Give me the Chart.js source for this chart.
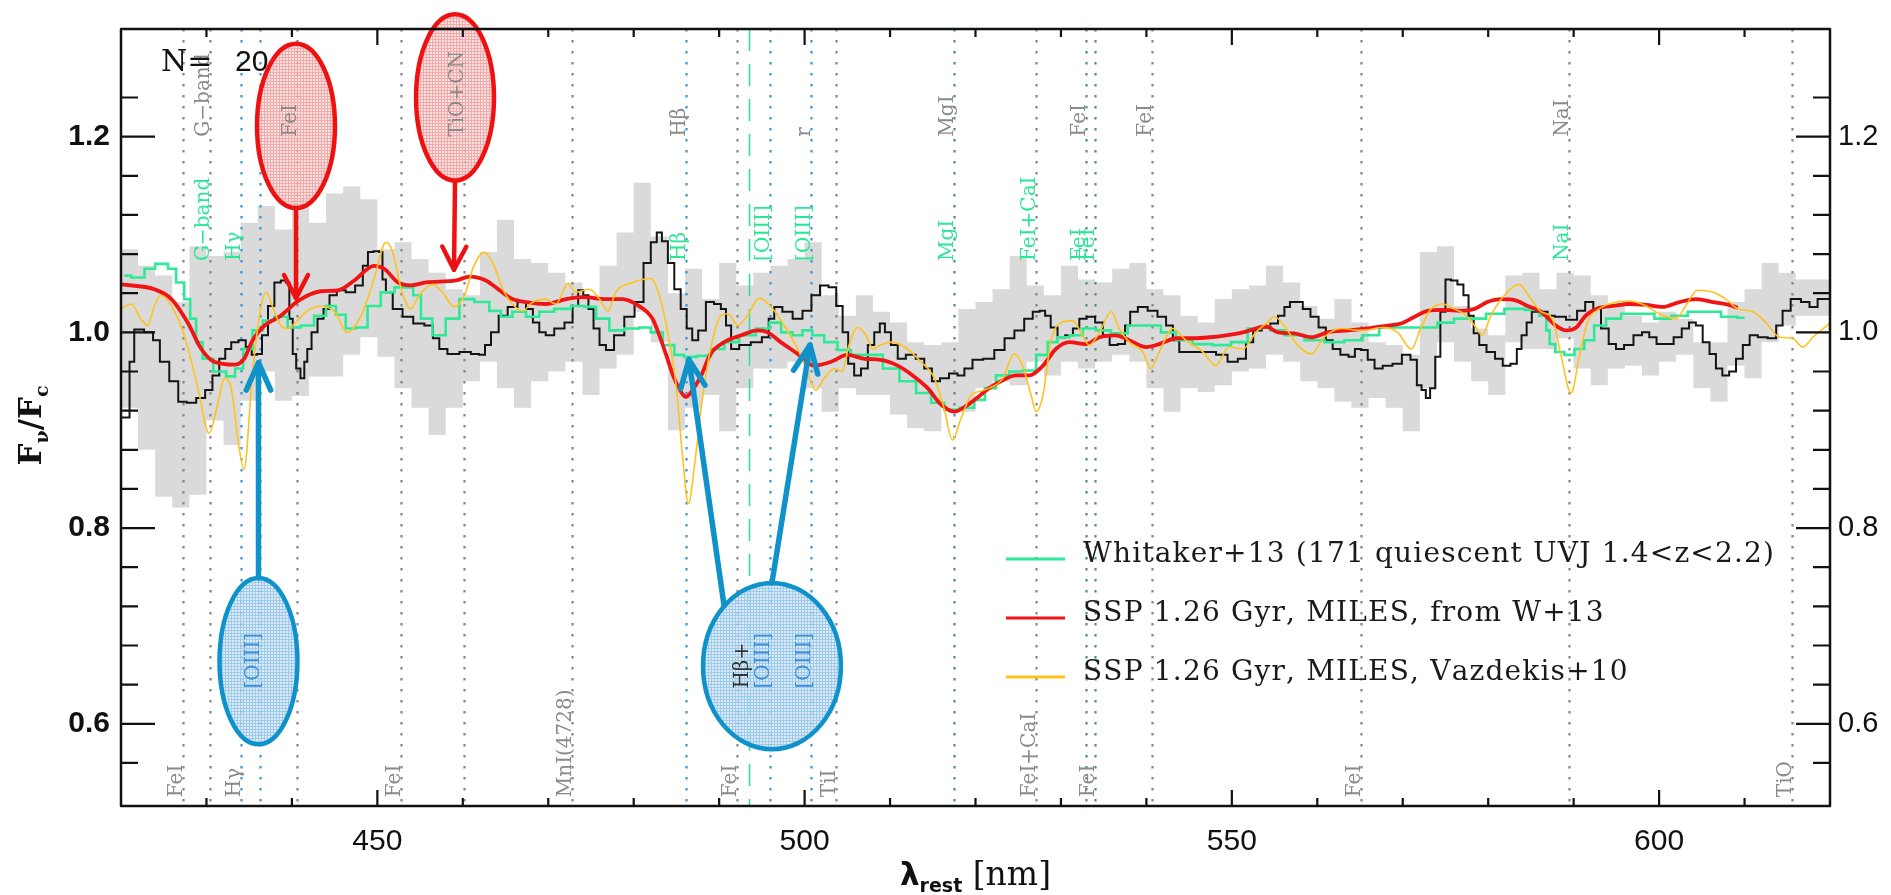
<!DOCTYPE html>
<html>
<head>
<meta charset="utf-8">
<script src="https://cdn.jsdelivr.net/npm/chart.js@4.4.1/dist/chart.umd.min.js"></script>
<style>
  html, body { margin: 0; padding: 0; background: #fff; }
  #wrap { width: 1891px; height: 895px; }
</style>
</head>
<body>
<div id="wrap"><canvas id="spec"></canvas></div>
<script>
// ---- data (rest wavelength in nm, F_nu/F_c) ----
const bandNm = [420,422,424,426,428,430,432,434,436,438,440,442,444,446,448,450,452,454,456,458,460,462,464,466,468,470,472,474,476,478,480,482,484,486,488,490,492,494,496,498,500,502,504,506,508,510,512,514,516,518,520,522,524,526,528,530,532,534,536,538,540,542,544,546,548,550,552,554,556,558,560,562,564,566,568,570,572,574,576,578,580,582,584,586,588,590,592,594,596,598,600,602,604,606,608,610,612,614,616,618,620];
const bandHigh = [1.041,1.085,1.068,1.058,1.031,1.088,1.078,1.082,1.112,1.129,1.105,1.136,1.112,1.142,1.149,1.136,1.085,1.092,1.075,1.061,1.044,1.038,1.082,1.115,1.075,1.071,1.061,1.051,1.038,1.068,1.102,1.153,1.098,1.040,1.065,1.034,1.071,1.048,1.061,1.068,1.075,1.092,1.038,1.017,1.038,1.021,1.010,0.990,0.987,0.990,1.024,1.031,1.044,1.078,1.048,1.038,1.068,1.054,1.051,1.065,1.071,1.044,1.038,1.017,1.010,1.034,1.044,1.048,1.068,1.051,1.027,1.014,1.034,1.010,0.990,0.987,0.977,1.082,1.088,1.027,1.004,0.997,1.058,1.061,1.044,1.061,1.058,1.038,1.027,1.017,1.010,1.021,1.014,0.990,0.990,1.031,1.044,1.071,1.061,1.054,1.054];
const bandLow = [0.900,0.923,0.880,0.832,0.821,0.834,0.910,0.885,0.930,0.960,0.930,0.935,0.955,0.955,0.977,0.995,0.975,0.943,0.923,0.895,0.923,0.950,0.970,0.943,0.923,0.950,0.960,0.970,0.936,0.963,0.977,1.021,0.990,0.900,0.923,0.936,0.899,0.943,0.963,0.963,0.970,0.943,0.919,0.943,0.936,0.936,0.916,0.902,0.899,0.923,0.919,0.943,0.950,0.946,0.970,0.956,0.970,0.963,0.970,0.977,0.970,0.943,0.919,0.943,0.939,0.946,0.960,0.963,0.977,0.970,0.950,0.943,0.929,0.923,0.933,0.923,0.899,0.943,0.990,0.970,0.950,0.936,0.990,0.983,0.983,0.994,0.963,0.946,0.963,0.966,0.956,0.970,0.977,0.943,0.929,0.966,0.953,0.990,1.007,1.017,1.017];

const stackNm = [420.0,420.8,421.2,421.9,423.5,424.0,425.1,426.2,427.2,428.2,429.4,430.3,431.1,431.9,432.5,433.3,434.2,435.0,435.6,436.2,436.8,437.6,438.3,439.1,439.5,439.9,440.3,440.7,441.3,441.6,442.0,442.6,443.4,444.0,444.8,445.7,446.9,447.9,448.7,449.1,450.0,450.4,450.8,451.2,452.4,453.5,454.9,456.1,456.9,457.6,458.8,460.4,461.5,462.3,462.9,463.7,464.7,465.8,467.0,467.8,468.6,469.3,470.1,471.3,472.5,473.2,473.8,474.4,475.0,475.6,476.4,477.1,478.3,479.5,480.7,481.6,482.4,483.0,483.6,484.4,485.1,485.9,486.5,487.2,487.9,489.0,489.8,490.6,491.0,491.8,492.9,494.5,495.5,496.1,496.8,498.0,499.2,500.3,501.3,502.3,503.3,504.1,504.8,505.4,506.2,507.0,507.8,508.5,509.1,509.7,510.5,511.3,512.4,513.6,514.4,515.4,516.3,517.5,518.3,519.1,520.2,521.6,522.8,524.0,525.1,526.3,527.1,527.9,528.4,529.2,530.0,531.0,531.8,532.5,533.5,534.5,535.3,536.1,537.2,537.8,538.4,539.6,540.7,541.9,542.7,543.5,544.2,545.8,547.4,548.9,550.1,551.3,552.0,553.0,554.0,555.0,555.8,556.5,557.1,557.9,558.7,559.7,560.6,561.4,562.2,563.2,564.1,564.7,565.5,566.3,567.1,568.2,569.4,570.4,571.4,571.9,572.5,572.9,573.5,574.1,574.7,575.3,576.0,576.8,577.4,578.0,578.6,579.3,580.3,581.3,582.1,583.1,583.6,584.2,584.8,585.4,586.6,587.3,588.3,589.9,590.9,591.8,592.8,593.6,594.6,595.3,596.5,597.5,598.5,599.2,600.2,601.2,602.2,603.1,603.9,604.7,605.5,606.3,607.0,607.8,608.6,609.4,610.2,611.0,612.1,613.3,614.1,614.8,616.0,617.2,618.0,619.1,620.0];
const stackFlux = [0.913,0.913,0.970,1.003,1.000,0.992,0.970,0.950,0.929,0.928,0.933,0.941,0.956,0.973,0.983,0.990,0.992,0.985,0.977,0.978,0.997,1.027,1.051,1.053,1.051,1.014,0.978,0.963,0.953,0.970,0.983,1.000,1.014,1.024,1.038,1.043,1.041,1.048,1.068,1.082,1.083,1.082,1.054,1.041,1.024,1.016,1.009,1.007,0.994,0.983,0.978,0.980,0.978,0.977,0.987,1.000,1.017,1.026,1.031,1.024,1.010,1.000,0.997,1.004,1.010,1.027,1.043,1.038,1.024,1.004,0.987,0.982,0.997,1.016,1.031,1.071,1.092,1.102,1.093,1.071,1.044,1.024,1.004,0.992,1.002,1.031,1.029,1.024,1.007,0.983,0.987,0.990,0.995,1.014,1.026,1.021,1.014,1.022,1.038,1.048,1.046,1.027,1.000,0.968,0.956,0.963,0.987,1.000,1.009,1.000,0.987,0.973,0.977,0.973,0.963,0.950,0.953,0.958,0.956,0.963,0.972,0.973,0.982,0.994,1.002,1.014,1.021,1.022,1.017,1.005,0.995,0.997,1.004,1.014,1.016,1.010,0.997,0.987,0.988,1.007,1.021,1.026,1.022,1.016,1.007,0.992,0.980,0.980,0.980,0.977,0.970,0.973,0.990,1.002,1.005,1.009,1.017,1.026,1.031,1.031,1.024,1.016,1.005,0.992,0.983,0.977,0.975,0.983,0.982,0.972,0.963,0.966,0.968,0.977,0.972,0.946,0.941,0.933,0.943,0.975,1.021,1.054,1.053,1.049,1.038,1.017,0.999,0.987,0.980,0.973,0.966,0.968,0.983,0.997,1.010,1.021,1.021,1.017,1.016,1.013,1.022,1.031,1.024,1.004,0.988,0.983,0.987,0.997,1.000,0.995,0.988,0.988,0.995,1.004,1.010,1.007,0.990,0.978,0.963,0.956,0.960,0.973,0.987,0.997,0.995,0.994,1.007,1.022,1.034,1.031,1.026,1.034,1.034];

const whitNm = [420.4,422.0,423.5,424.5,425.1,425.9,427.0,427.8,428.4,429.2,429.9,431.7,432.9,433.8,434.8,436.0,437.2,438.7,440.3,441.8,443.4,444.6,445.7,446.9,448.1,449.6,451.2,452.8,453.9,454.5,455.7,457.2,458.8,460.4,462.3,463.9,465.0,466.6,468.2,469.7,471.7,473.6,474.8,476.4,477.9,479.9,481.4,482.6,484.2,485.3,486.5,488.3,489.8,491.4,493.3,495.3,496.5,498.0,499.2,500.3,501.5,503.1,504.6,506.2,508.2,510.1,512.1,514.0,515.6,517.1,519.1,520.6,521.6,523.2,524.7,526.3,527.9,529.0,530.2,531.8,533.3,534.9,536.8,538.8,540.7,542.7,544.2,546.6,548.9,550.9,552.8,554.0,555.0,557.3,559.7,562.0,564.3,566.3,568.2,570.6,572.9,575.2,576.8,578.8,580.7,583.1,585.4,586.6,587.0,587.4,588.3,589.5,590.7,591.8,593.0,594.6,596.5,598.5,600.4,602.4,604.3,606.3,608.2,610.0];
const whitFlux = [1.058,1.056,1.065,1.070,1.070,1.065,1.051,1.034,1.014,0.990,0.973,0.960,0.955,0.963,0.983,1.002,1.012,1.016,1.005,1.007,1.017,1.027,1.018,1.004,1.005,1.027,1.041,1.046,1.046,1.038,1.014,0.997,1.014,1.034,1.031,1.022,1.016,1.021,1.016,1.021,1.024,1.027,1.026,1.014,1.002,1.004,1.005,1.000,0.987,0.977,0.975,0.976,0.983,0.990,0.997,1.004,1.010,1.000,0.997,1.002,0.997,0.990,0.982,0.977,0.977,0.963,0.950,0.938,0.928,0.921,0.923,0.931,0.943,0.956,0.960,0.961,0.977,0.990,0.995,0.997,1.004,1.002,0.999,1.007,1.007,1.000,0.992,0.988,0.987,0.990,1.004,1.006,1.002,0.997,0.992,0.990,0.992,0.997,1.005,1.005,1.005,1.010,1.014,1.014,1.019,1.024,1.023,1.017,1.002,0.988,0.980,0.977,0.983,0.992,1.007,1.014,1.019,1.019,1.014,1.017,1.021,1.021,1.016,1.015];

const sspNm = [420.0,423.9,425.9,427.8,429.4,430.9,433.3,434.4,435.4,436.8,438.7,440.7,443.4,445.4,447.3,449.6,450.8,452.4,453.9,455.7,459.2,460.8,462.7,464.3,465.8,467.4,469.7,472.1,474.0,476.8,478.7,480.6,482.2,483.0,483.8,484.6,485.3,486.1,486.8,487.9,489.0,490.6,492.6,494.5,495.7,497.2,499.2,501.1,503.1,505.0,507.0,508.9,510.9,512.8,514.4,516.0,517.5,519.1,520.6,521.6,523.2,524.7,526.3,527.9,529.4,531.0,532.9,534.5,536.4,538.0,540.0,541.5,543.5,545.4,547.4,549.3,551.3,554.0,555.4,557.3,559.3,561.2,563.6,565.9,568.2,569.8,571.4,572.9,574.9,576.8,578.4,579.9,581.5,583.1,584.6,586.2,587.9,589.1,590.3,591.4,593.0,594.6,596.5,598.5,600.4,602.4,604.3,606.3,608.2,609.2];
const sspFlux = [1.049,1.044,1.034,1.010,0.983,0.970,0.967,0.973,0.992,1.007,1.017,1.032,1.042,1.043,1.053,1.068,1.065,1.051,1.048,1.051,1.053,1.057,1.053,1.043,1.034,1.031,1.029,1.034,1.036,1.034,1.034,1.027,1.014,0.997,0.977,0.956,0.943,0.934,0.940,0.956,0.978,0.990,0.997,1.002,1.000,0.990,0.978,0.966,0.970,0.977,0.973,0.972,0.966,0.955,0.943,0.926,0.919,0.926,0.936,0.943,0.951,0.956,0.956,0.966,0.983,0.990,0.988,0.995,0.997,0.992,0.985,0.988,0.994,0.994,0.995,0.997,1.000,1.006,1.000,0.999,0.995,1.000,1.002,1.004,1.007,1.009,1.016,1.022,1.023,1.022,1.024,1.031,1.034,1.033,1.027,1.021,1.007,1.002,1.005,1.017,1.025,1.027,1.029,1.028,1.026,1.031,1.034,1.031,1.028,1.025];

const vazNm = [420.0,421.2,422.3,423.1,423.9,424.7,425.9,427.4,429.0,430.3,431.3,432.1,432.9,433.7,434.4,435.4,436.4,437.0,437.7,438.7,439.5,440.3,441.8,443.4,445.0,446.5,448.1,449.6,451.0,451.8,452.8,453.9,454.9,456.5,457.6,459.0,460.2,461.3,462.5,463.5,464.7,465.8,467.0,468.2,469.7,470.9,472.3,473.2,474.8,476.0,477.0,477.9,479.9,482.0,483.0,484.2,485.0,485.7,486.4,487.2,487.9,489.0,490.2,491.0,492.2,493.3,494.7,496.1,497.6,499.2,500.3,501.3,502.3,503.5,504.4,505.2,506.2,507.2,508.0,508.9,510.1,511.7,513.6,515.2,516.3,517.3,518.3,519.5,520.6,521.6,523.2,524.5,525.5,526.5,527.1,527.9,528.8,529.8,531.4,532.5,533.3,534.5,535.9,536.8,538.0,539.6,540.5,541.5,543.1,544.6,546.6,548.1,549.7,551.3,552.8,554.0,555.0,556.1,557.7,559.3,560.8,562.8,565.1,567.8,569.4,571.0,572.1,573.3,574.7,576.0,577.2,578.4,579.3,580.3,581.9,583.6,585.0,586.2,587.5,588.5,589.7,590.7,591.6,593.0,595.0,596.5,598.5,600.0,602.0,603.1,604.5,606.3,607.8,609.2,611.0,612.5,614.1,615.6,616.8,618.0,619.9];
const vazFlux = [1.024,1.029,1.014,1.007,1.027,1.038,1.027,0.997,0.943,0.897,0.926,0.953,0.943,0.889,0.860,0.960,1.027,1.041,1.027,1.007,1.004,1.009,1.022,1.027,1.021,1.000,1.017,1.054,1.092,1.082,1.044,1.024,1.038,1.049,1.041,1.026,1.038,1.068,1.082,1.071,1.044,1.029,1.022,1.031,1.034,1.029,1.050,1.041,1.044,1.034,1.022,1.041,1.051,1.055,1.038,0.990,0.943,0.875,0.825,0.870,0.923,0.983,1.017,1.019,1.007,1.017,1.035,1.026,1.007,0.983,0.960,0.941,0.953,0.963,0.960,0.987,1.005,0.997,0.983,0.987,0.990,0.985,0.970,0.953,0.923,0.890,0.912,0.936,0.940,0.943,0.953,0.978,0.966,0.936,0.919,0.936,0.990,1.009,1.012,0.997,0.987,1.000,1.021,1.004,0.990,0.980,0.963,0.980,1.004,0.992,0.980,0.966,0.985,0.983,1.000,1.009,1.016,1.007,0.987,0.978,0.995,1.004,1.002,1.005,1.000,0.983,1.004,1.024,1.029,1.024,1.019,1.007,0.997,1.017,1.038,1.049,1.034,1.021,1.014,0.977,0.938,0.977,1.010,1.024,1.031,1.032,1.027,1.019,1.014,1.027,1.043,1.041,1.034,1.024,1.021,1.010,0.995,0.994,0.985,0.995,1.009];

// spectral feature markers
const lineNm   = [427.2,430.4,434.0,436.3,440.6,452.8,460.1,472.8,486.1,492.1,493.5,496.0,500.7,503.7,517.5,527.1,532.9,534.0,540.6,565.1,589.4,615.6];
const lineKind = ['grey','grey','blue','blue','grey','grey','grey','grey','blue','grey','dash','blue','blue','grey','teal','grey','teal','teal','grey','grey','grey','grey'];
const topLabels = [[430.4,'G\u2212band'],[440.6,'FeI'],[460.1,'TiO+CN'],[486.1,'H\u03b2'],[500.7,'r'],[517.5,'MgI'],[532.9,'FeI'],[540.6,'FeI'],[589.4,'NaI']];
const midLabels = [[430.4,'G\u2212band'],[434.0,'H\u03b3'],[486.1,'H\u03b2'],[496.0,'[OIII]'],[500.7,'[OIII]'],[517.5,'MgI'],[527.1,'FeI+CaI'],[532.9,'FeI'],[534.0,'FeI'],[589.4,'NaI']];
const lowLabels = [[427.2,'FeI'],[434.0,'H\u03b3'],[452.8,'FeI'],[472.8,'MnI(4728)'],[492.1,'FeI'],[503.7,'TiI'],[527.1,'FeI+CaI'],[534.0,'FeI'],[565.1,'FeI'],[615.6,'TiO']];
const bubbleLabels = [[436.3,'[OIII]','blue'],[493.5,'H\u03b2+','dark'],[496.0,'[OIII]','blue'],[500.7,'[OIII]','blue']];

// hand-drawn callouts (data coords: nm, flux)
const callouts = [
  { nm: 440.48, v: 1.211, rx: 4.56, ry: 0.084, kind: 'red' },
  { nm: 459.09, v: 1.240, rx: 4.56, ry: 0.085, kind: 'red' },
  { nm: 436.09, v: 0.664, rx: 4.56, ry: 0.085, kind: 'blue' },
  { nm: 496.18, v: 0.659, rx: 8.07, ry: 0.085, kind: 'blue' }
];
const arrows = [
  { from: [440.48, 1.127], to: [440.48, 1.035], kind: 'red' },
  { from: [459.09, 1.155], to: [458.97, 1.064], kind: 'red' },
  { from: [436.09, 0.749], to: [436.09, 0.969], kind: 'blue' },
  { from: [490.57, 0.721], to: [486.47, 0.972], kind: 'blue' },
  { from: [496.18, 0.744], to: [500.63, 0.987], kind: 'blue' }
];

const xy = (xs, ys) => xs.map((x, i) => ({ x: x, y: ys[i] }));

const lineColors = { grey: '#858585', blue: '#3d93d6', teal: '#4f8c8c', dash: '#37dd9c' };
const inkRed = '#ee1111', inkBlue = '#0f92c9';

function hatchCanvas(bg, ink) {
  const c = document.createElement('canvas');
  c.width = 3; c.height = 3;
  const g = c.getContext('2d');
  g.fillStyle = bg; g.fillRect(0, 0, 3, 3);
  g.fillStyle = ink; g.fillRect(0, 0, 3, 1); g.fillRect(0, 0, 1, 3);
  return c;
}

function vtext(ctx, text, x, y, font, color) {
  ctx.save();
  ctx.translate(x, y);
  ctx.rotate(-Math.PI / 2);
  ctx.font = font;
  ctx.fillStyle = color;
  ctx.textAlign = 'left';
  ctx.textBaseline = 'alphabetic';
  ctx.fillText(text, 0, 0);
  ctx.restore();
}

function drawParts(ctx, parts, cx, baseY) {
  let total = 0;
  parts.forEach(p => { ctx.font = p.f; p.w = ctx.measureText(p.t).width; total += p.w; });
  let x = cx - total / 2;
  parts.forEach(p => { ctx.font = p.f; ctx.fillText(p.t, x, baseY + (p.dy || 0)); x += p.w; });
}

const overlay = {
  id: 'overlay',
  afterDatasetDraw(chart, args) {
    if (args.index !== 0) return;
    const { ctx, chartArea: ca, scales: { x } } = chart;
    ctx.save();
    ctx.beginPath(); ctx.rect(ca.left, ca.top, ca.right - ca.left, ca.bottom - ca.top); ctx.clip();
    lineNm.forEach((nm, i) => {
      const px = Math.round(x.getPixelForValue(nm)) + 0.5;
      const kind = lineKind[i];
      ctx.strokeStyle = lineColors[kind];
      ctx.lineWidth = kind === 'dash' ? 1.6 : 2.2;
      ctx.setLineDash(kind === 'dash' ? [22, 13] : [2.5, 8.5]);
      ctx.beginPath(); ctx.moveTo(px, ca.top); ctx.lineTo(px, ca.bottom); ctx.stroke();
    });
    ctx.restore();
  },
  afterDatasetsDraw(chart) {
    const { ctx, chartArea: ca, scales: { x, y } } = chart;
    const X = v => x.getPixelForValue(v), Y = v => y.getPixelForValue(v);
    ctx.save();

    // callout fills (under the feature labels)
    const redFill = ctx.createPattern(hatchCanvas('#fcdede', '#f29a9a'), 'repeat');
    const blueFill = ctx.createPattern(hatchCanvas('#d6e8f6', '#8ec2ea'), 'repeat');
    callouts.forEach(c => {
      const cx = X(c.nm), cy = Y(c.v);
      const rx = Math.abs(X(c.nm + c.rx) - cx), ry = Math.abs(Y(c.v + c.ry) - cy);
      ctx.globalAlpha = 0.85;
      ctx.fillStyle = c.kind === 'red' ? redFill : blueFill;
      ctx.beginPath(); ctx.ellipse(cx, cy, rx, ry, 0, 0, Math.PI * 2); ctx.fill();
      ctx.globalAlpha = 1;
    });

    // feature labels
    const lf = '20px "DejaVu Serif"';
    topLabels.forEach(([nm, t]) => vtext(ctx, t, X(nm) - 1, Y(1.2), lf, '#8a8a8a'));
    midLabels.forEach(([nm, t]) => vtext(ctx, t, X(nm) - 1, Y(1.073), lf, '#2be696'));
    lowLabels.forEach(([nm, t]) => vtext(ctx, t, X(nm) - 1, Y(0.525), lf, '#8a8a8a'));
    bubbleLabels.forEach(([nm, t, k]) => vtext(ctx, t, X(nm) - 1, Y(0.636), lf, k === 'blue' ? '#3d8fd8' : '#333'));

    // callout outlines
    callouts.forEach(c => {
      const cx = X(c.nm), cy = Y(c.v);
      const rx = Math.abs(X(c.nm + c.rx) - cx), ry = Math.abs(Y(c.v + c.ry) - cy);
      ctx.strokeStyle = c.kind === 'red' ? inkRed : inkBlue;
      ctx.lineWidth = 4.5;
      ctx.beginPath(); ctx.ellipse(cx, cy, rx, ry, 0, 0, Math.PI * 2); ctx.stroke();
    });

    // arrows
    ctx.lineCap = 'round';
    ctx.lineJoin = 'round';
    arrows.forEach(a => {
      const x0 = X(a.from[0]), y0 = Y(a.from[1]), x1 = X(a.to[0]), y1 = Y(a.to[1]);
      const ang = Math.atan2(y1 - y0, x1 - x0);
      const red = a.kind === 'red';
      const len = red ? 26 : 30, spread = red ? 0.48 : 0.42;
      ctx.strokeStyle = red ? inkRed : inkBlue;
      ctx.lineWidth = red ? 4.5 : 5.5;
      ctx.beginPath(); ctx.moveTo(x0, y0); ctx.lineTo(x1, y1); ctx.stroke();
      ctx.beginPath();
      ctx.moveTo(x1 - len * Math.cos(ang - spread), y1 - len * Math.sin(ang - spread));
      ctx.lineTo(x1, y1);
      ctx.lineTo(x1 - len * Math.cos(ang + spread), y1 - len * Math.sin(ang + spread));
      ctx.stroke();
    });
    ctx.lineCap = 'butt';

    // legend inside the plot
    const rows = [4, 3, 2];
    const lx = ca.left + 885, ly = ca.top + 530;
    ctx.font = '28px "DejaVu Serif"';
    const first = chart.data.datasets[rows[0]].label;
    const spacing = Math.max(-2, (691 - ctx.measureText(first).width) / (first.length - 1));
    rows.forEach((di, k) => {
      const ds = chart.data.datasets[di];
      const yy = ly + k * 59;
      ctx.strokeStyle = ds.borderColor;
      ctx.lineWidth = 3;
      ctx.beginPath(); ctx.moveTo(lx, yy); ctx.lineTo(lx + 59, yy); ctx.stroke();
      ctx.fillStyle = '#1a1a1a';
      ctx.textAlign = 'left';
      ctx.textBaseline = 'alphabetic';
      let cx = lx + 77;
      for (const ch of ds.label) {
        ctx.fillText(ch, cx, yy + 3);
        cx += ctx.measureText(ch).width + spacing;
      }
    });

    // N = 20
    ctx.fillStyle = '#111';
    ctx.font = '30px "DejaVu Serif"';
    ctx.fillText('N=', ca.left + 40, ca.top + 42);
    ctx.font = '30px "Liberation Sans"';
    ctx.fillText('20', ca.left + 114, ca.top + 42);

    // frame and inward ticks
    ctx.strokeStyle = '#111';
    ctx.lineWidth = 2.5;
    ctx.strokeRect(ca.left, ca.top, ca.right - ca.left, ca.bottom - ca.top);
    ctx.lineWidth = 2.2;
    x.ticks.forEach(t => {
      const v = Math.round(t.value * 10) / 10;
      if (Math.abs(v - t.value) > 1e-6 || v <= x.min || v >= x.max) return;
      const px = X(v), len = v % 50 === 0 ? 16 : 8;
      ctx.beginPath();
      ctx.moveTo(px, ca.bottom); ctx.lineTo(px, ca.bottom - len);
      ctx.moveTo(px, ca.top); ctx.lineTo(px, ca.top + len);
      ctx.stroke();
    });
    y.ticks.forEach(t => {
      const h = Math.round(t.value * 100);
      if (Math.abs(t.value * 100 - h) > 1e-6 || h % 4 !== 0) return;
      const py = Y(h / 100), len = h % 20 === 0 ? 34 : 17;
      ctx.beginPath();
      ctx.moveTo(ca.left, py); ctx.lineTo(ca.left + len, py);
      ctx.moveTo(ca.right, py); ctx.lineTo(ca.right - len, py);
      ctx.stroke();
    });

    // axis titles
    ctx.fillStyle = '#111';
    ctx.textAlign = 'left';
    ctx.textBaseline = 'alphabetic';
    drawParts(ctx, [
      { t: '\u03bb', f: 'bold 31px "DejaVu Sans"' },
      { t: 'rest', f: 'bold 19px "DejaVu Sans"', dy: 7 },
      { t: ' [nm]', f: '33px "DejaVu Serif"' }
    ], (ca.left + ca.right) / 2, 885);

    ctx.save();
    ctx.translate(41, (ca.top + ca.bottom) / 2 + 8);
    ctx.rotate(-Math.PI / 2);
    drawParts(ctx, [
      { t: 'F', f: 'bold 31px "DejaVu Serif"' },
      { t: '\u03bd', f: 'bold 19px "DejaVu Serif"', dy: 7 },
      { t: '/', f: 'bold 31px "DejaVu Serif"' },
      { t: 'F', f: 'bold 31px "DejaVu Serif"' },
      { t: 'c', f: 'bold 19px "DejaVu Serif"', dy: 7 }
    ], 0, 0);
    ctx.restore();

    ctx.restore();
  }
};

const majorY = v => {
  const h = Math.round(v * 100);
  return Math.abs(v * 100 - h) < 1e-6 && h % 20 === 0 ? (h / 100).toFixed(1) : '';
};

new Chart(document.getElementById('spec'), {
  type: 'line',
  data: {
    datasets: [
      { label: 'band high', data: xy(bandNm, bandHigh), stepped: 'after', borderWidth: 0, pointRadius: 0,
        backgroundColor: '#dadada', fill: '+1', order: 10 },
      { label: 'band low', data: xy(bandNm, bandLow), stepped: 'after', borderWidth: 0, pointRadius: 0,
        fill: false, order: 10 },
      { label: 'SSP 1.26 Gyr, MILES, Vazdekis+10', data: xy(vazNm, vazFlux), borderColor: '#ffc21c',
        borderWidth: 1.6, pointRadius: 0, cubicInterpolationMode: 'monotone', fill: false },
      { label: 'SSP 1.26 Gyr, MILES, from W+13', data: xy(sspNm, sspFlux), borderColor: '#f01414',
        borderWidth: 3.8, pointRadius: 0, cubicInterpolationMode: 'monotone', fill: false },
      { label: 'Whitaker+13 (171 quiescent UVJ 1.4<z<2.2)', data: xy(whitNm, whitFlux), borderColor: '#2ee996',
        borderWidth: 2.6, pointRadius: 0, stepped: 'middle', fill: false },
      { label: 'N=20 stack', data: xy(stackNm, stackFlux), borderColor: '#141414',
        borderWidth: 2, pointRadius: 0, stepped: 'middle', fill: false }
    ]
  },
  options: {
    responsive: true,
    maintainAspectRatio: false,
    animation: false,
    events: [],
    layout: { padding: { top: 20, left: 0, right: 0, bottom: 0 } },
    plugins: { legend: { display: false }, tooltip: { enabled: false } },
    scales: {
      x: {
        type: 'linear', position: 'bottom', min: 420, max: 620,
        grid: { display: false, drawTicks: false }, border: { display: false },
        ticks: { stepSize: 10, autoSkip: false, maxRotation: 0, padding: 18, color: '#111',
          font: { family: 'Liberation Sans', size: 30 },
          callback: v => (Math.abs(v % 50) < 1e-6 && v > 420 && v < 620) ? String(v) : '' },
        afterFit: s => { s.height = 89; }
      },
      y: {
        type: 'linear', position: 'left', min: 0.516, max: 1.31,
        grid: { display: false, drawTicks: false }, border: { display: false },
        ticks: { stepSize: 0.04, autoSkip: false, padding: 11, color: '#111',
          font: { family: 'Liberation Sans', size: 30, weight: 'bold' }, callback: majorY },
        afterFit: s => { s.width = 121; }
      },
      y2: {
        type: 'linear', position: 'right', min: 0.516, max: 1.31,
        grid: { display: false, drawTicks: false }, border: { display: false },
        ticks: { stepSize: 0.04, autoSkip: false, padding: 8, color: '#111',
          font: { family: 'Liberation Sans', size: 29 }, callback: majorY },
        afterFit: s => { s.width = 61; }
      }
    }
  },
  plugins: [overlay]
});
</script>
</body>
</html>
